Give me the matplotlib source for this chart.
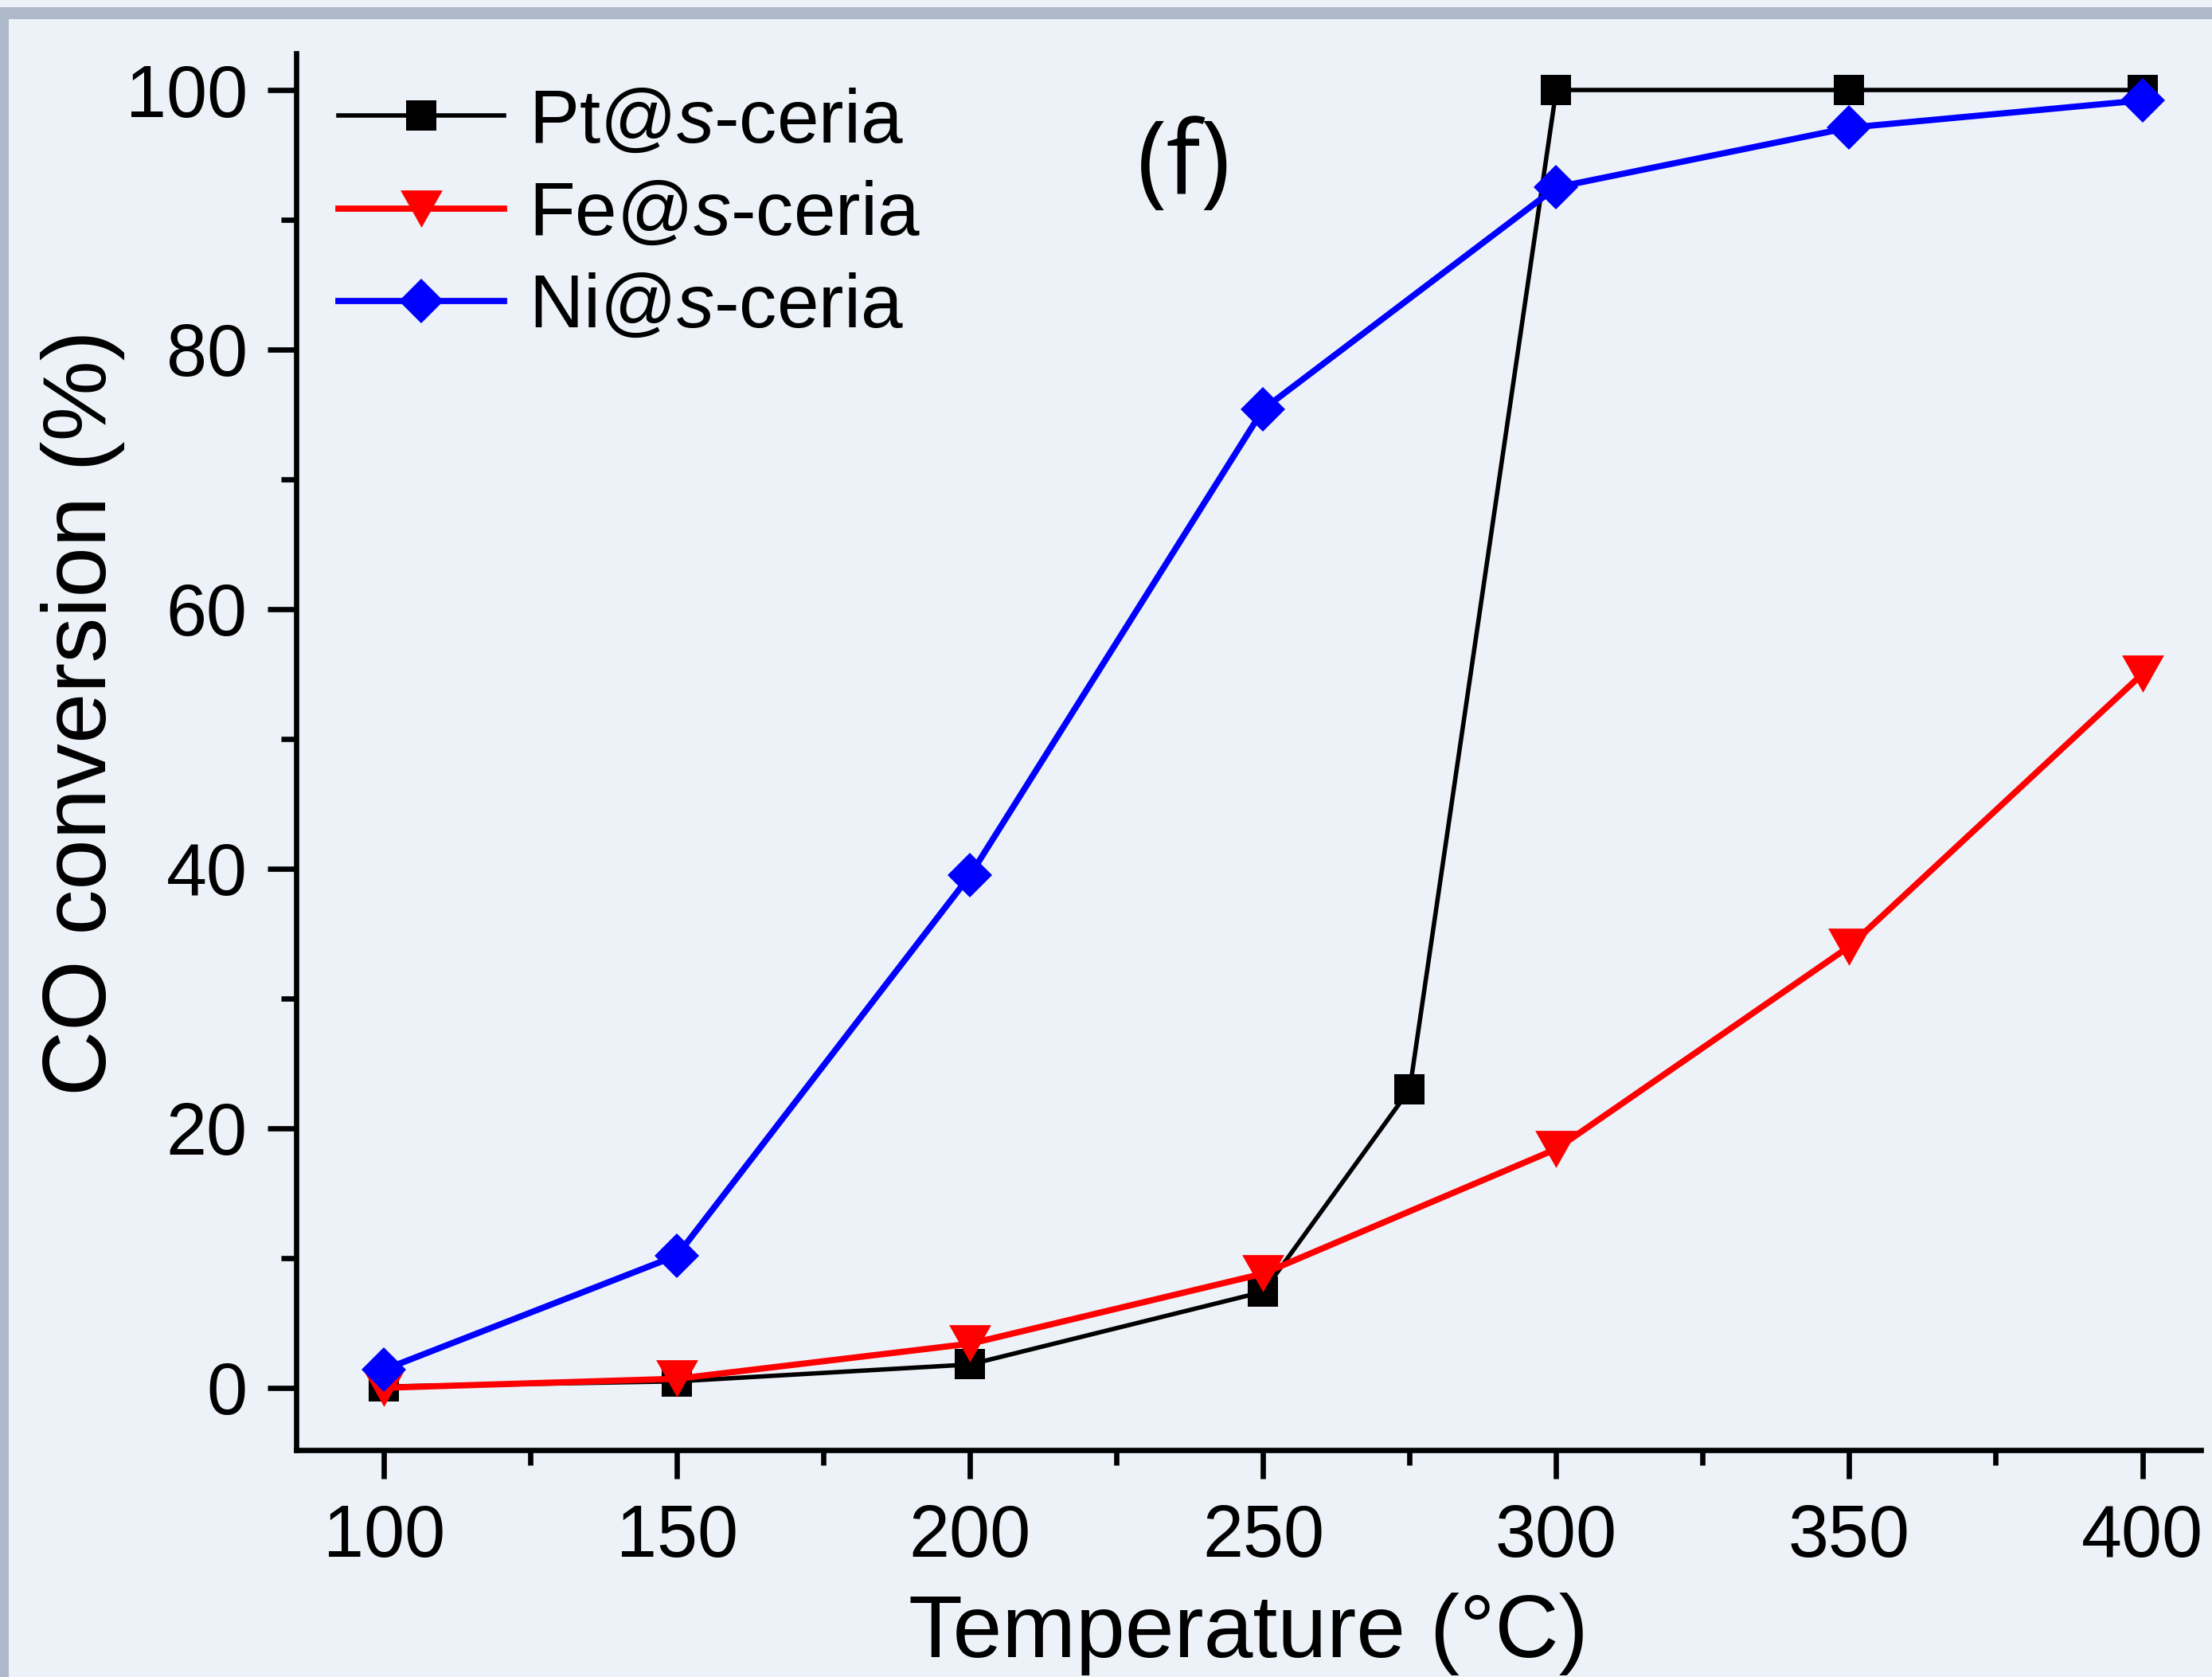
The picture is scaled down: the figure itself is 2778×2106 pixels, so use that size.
"""
CO conversion vs temperature for Pt/Fe/Ni on s-ceria, panel (f).
"""

import numpy as np
import matplotlib
matplotlib.use('Agg')
import matplotlib.pyplot as plt
from matplotlib.patches import Rectangle
from matplotlib.ticker import MultipleLocator

# data
temp_pt = [100, 150, 200, 250, 275, 300, 350, 400]
conv_pt = [0.1, 0.5, 1.8, 7.4, 23.0, 100.0, 100.0, 100.0]

temp_fe = [100, 150, 200, 250, 300, 350, 400]
conv_fe = [0.0, 0.7, 3.4, 8.8, 18.4, 34.0, 55.0]

temp_ni = [100, 150, 200, 250, 300, 350, 400]
conv_ni = [1.4, 10.2, 39.5, 75.4, 92.5, 97.1, 99.2]

labels = ['Pt@$\\it{s}$-ceria', 'Fe@$\\it{s}$-ceria', 'Ni@$\\it{s}$-ceria']
x_ticks = [100, 150, 200, 250, 300, 350, 400]
y_ticks = [0, 20, 40, 60, 80, 100]

plt.rcParams['font.family'] = ['Liberation Sans', 'DejaVu Sans']
plt.rcParams['mathtext.fontset'] = 'custom'
plt.rcParams['mathtext.rm'] = 'Liberation Sans'
plt.rcParams['mathtext.it'] = 'Liberation Sans:italic'

BG = '#edf2f9'
BORDER = '#adb8c9'

fig = plt.figure(figsize=(13.89, 10.53), dpi=200)
fig.patch.set_facecolor(BG)

# decorative frame on top and left
fig.patches.append(Rectangle((0, 1 - 24 / 2106), 1, 15 / 2106, transform=fig.transFigure,
                             facecolor=BORDER, edgecolor='none'))
fig.patches.append(Rectangle((0, 0), 11 / 2778, 1 - 9 / 2106, transform=fig.transFigure,
                             facecolor=BORDER, edgecolor='none'))

ax = fig.add_axes([0.1339, 0.1353, 0.8611, 0.8327])
ax.set_facecolor('none')

tri_down = [(-1, 0.885), (1, 0.885), (0, -0.885)]

ax.plot(temp_pt, conv_pt, color='black', linewidth=2.0, marker='s',
        markersize=14, markeredgewidth=0, label=labels[0], zorder=3)
ax.plot(temp_fe, conv_fe, color='#ff0000', linewidth=2.8, marker=tri_down,
        markersize=19, markeredgewidth=0, label=labels[1], zorder=4)
ax.plot(temp_ni, conv_ni, color='#0000ff', linewidth=2.8, marker='D',
        markersize=14.3, markeredgewidth=0, label=labels[2], zorder=5)

ax.set_xlim(85, 410)
ax.set_ylim(-4.8, 102.8)
ax.set_xticks(x_ticks)
ax.set_yticks(y_ticks)
ax.xaxis.set_minor_locator(MultipleLocator(25))
ax.yaxis.set_minor_locator(MultipleLocator(10))

for side in ['top', 'right']:
    ax.spines[side].set_visible(False)
for side in ['left', 'bottom']:
    ax.spines[side].set_linewidth(2.4)

ax.tick_params(which='major', direction='out', length=13, width=2.4,
               labelsize=33)
ax.tick_params(which='minor', direction='out', length=7, width=2.4)
ax.tick_params(axis='x', which='major', pad=11)
ax.tick_params(axis='y', which='major', pad=9)

ax.set_xlabel('Temperature (°C)', fontsize=40)
ax.set_ylabel('CO conversion (%)', fontsize=41)
ax.xaxis.set_label_coords(0.5, -0.102)
ax.yaxis.set_label_coords(-0.09, 0.528)

ax.text(236.5, 94.0, '(f)', fontsize=46, family=['Open Sans', 'DejaVu Sans'],
        ha='center', va='center')

ax.legend(loc='upper left', bbox_to_anchor=(0.022, 0.976), frameon=False,
          fontsize=34, handlelength=2.21, handletextpad=0.32,
          labelspacing=0.29, borderpad=0, borderaxespad=0)

fig.savefig('out.png', dpi=200, facecolor=fig.get_facecolor())
